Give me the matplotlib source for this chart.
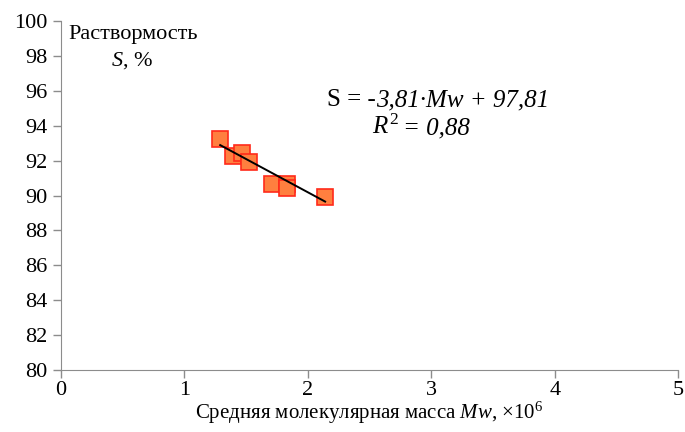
import numpy as np
import matplotlib.pyplot as plt

plt.rcParams['font.family'] = ['Liberation Serif', 'DejaVu Serif']
plt.rcParams['mathtext.fontset'] = 'custom'
plt.rcParams['mathtext.rm'] = 'Liberation Serif'
plt.rcParams['mathtext.it'] = 'Liberation Serif:italic'

# средняя молекулярная масса Mw (x10^6) и растворимость S, %
mw = np.array([1.29, 1.39, 1.47, 1.52, 1.71, 1.83, 1.83, 2.14])
s = np.array([93.27, 92.28, 92.46, 91.95, 90.65, 90.64, 90.41, 89.93])

k = -3.81
b = 97.81

H = 432

fig = plt.figure(figsize=(6.85, 4.32), dpi=100)
ax = fig.add_axes([0.089, 0.1435, 0.901, 0.8075])

ax.plot(mw, s, 's', markersize=11, markerfacecolor='#ff7f3f',
        markeredgecolor='#ff2a1a', markeredgewidth=1.2, zorder=2)
xl = np.array([mw.min(), mw.max()])
ax.plot(xl, k * xl + b, color='black', lw=1.4, zorder=3)

ax.set_xlim(0, 5)
ax.set_ylim(80, 100)
ax.set_xticks(range(0, 6))
ax.set_yticks(range(80, 101, 2))

for side in ['top', 'right']:
    ax.spines[side].set_visible(False)
for side in ['left', 'bottom']:
    ax.spines[side].set_color('#8c8c8c')
ax.tick_params(colors='#8c8c8c', labelcolor='black', labelsize=16,
               length=6, width=1)
ax.tick_params(axis='x', pad=2)

ax.set_xlabel(r'Средняя молекулярная масса $Mw$, ×10$^6$', fontsize=15,
              labelpad=0)

ax.text(133, H - 34, 'Раствормость', transform=None, fontsize=16,
        ha='center', va='center')
ax.text(132, H - 61, r'$S$, %', transform=None, fontsize=16,
        ha='center', va='center')


def rich(xc, yb, parts, size):
    # кусочки текста подряд, разного начертания
    r = fig.canvas.get_renderer()
    objs = []
    for txt, style, gap in parts:
        t = fig.text(0, 0, txt, fontsize=size, style=style,
                     transform=None, va='baseline')
        objs.append((t, gap))
    widths = [t.get_window_extent(r).width for t, g in objs]
    total = sum(widths) + sum(g for t, g in objs)
    x = xc - total / 2
    for (t, g), w in zip(objs, widths):
        x += g
        t.set_position((x, yb))
        x += w


rich(438, H - 106, [('S = -', 'normal', 0),
                    ('3,81·Mw + 97,81', 'italic', 0)], 18)
rich(421, H - 134, [('$R^2$', 'normal', 0),
                    ('= 0,88', 'italic', 5)], 18)

plt.savefig('out.png', dpi=100)
